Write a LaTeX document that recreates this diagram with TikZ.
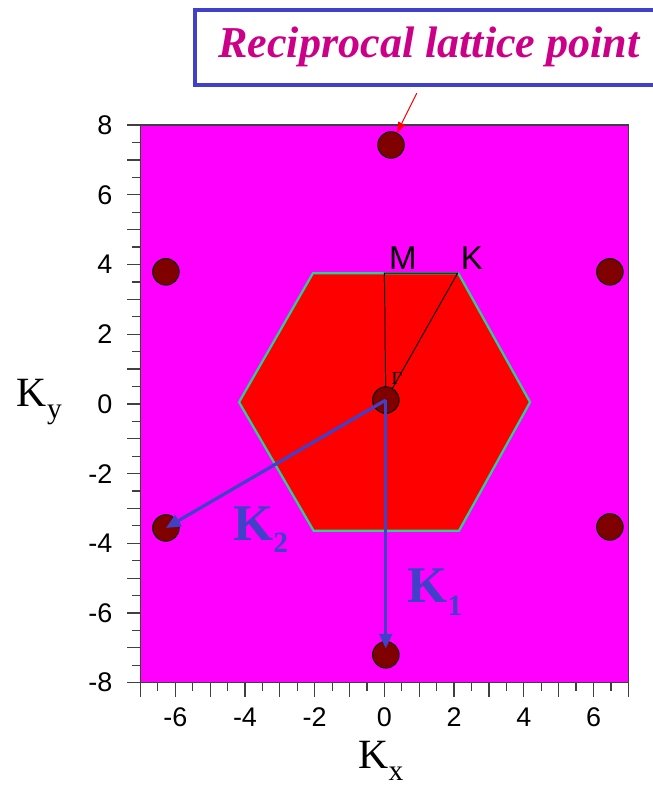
\documentclass[tikz,border=0pt]{standalone}
\usepackage{fontspec}
\setmainfont{Liberation Serif}
\newfontfamily\arialfont{Liberation Sans}
\usetikzlibrary{arrows.meta}

\definecolor{bgmag}{RGB}{255,0,255}
\definecolor{bzred}{RGB}{255,0,0}
\definecolor{ptred}{RGB}{128,0,0}
\definecolor{vecblue}{RGB}{64,64,200}
\definecolor{titlemag}{RGB}{204,0,136}
\definecolor{bzedge}{RGB}{40,210,150}

\newcommand\lowsub[2]{\raisebox{-10pt}{\fontsize{#1}{#1}\selectfont #2}}

\tikzset{
  latpt/.style={circle, draw=black, line width=0.8pt, fill=ptred, minimum size=0.76cm, inner sep=0pt},
  recvec/.style={vecblue, line width=2.6pt, -{Triangle[length=0.42cm,width=0.36cm]}},
  ticklbl/.style={font=\arialfont\fontsize{22}{22}\selectfont, inner sep=0pt},
  axislbl/.style={font=\fontsize{34}{34}\selectfont, inner sep=0pt},
  symlbl/.style={font=\arialfont\fontsize{27}{27}\selectfont, inner sep=0pt},
  veclbl/.style={font=\bfseries\fontsize{42}{42}\selectfont, text=vecblue, inner sep=0pt}
}

\begin{document}
\begin{tikzpicture}[x=1cm,y=1cm]
    \useasboundingbox (-11.03,-11.05) rectangle (7.68,11.59);

    % Plot area and first Brillouin zone
    \fill[bgmag] (-7,-8) rectangle (7,8);
    \filldraw[fill=bzred, draw=bzedge, line width=1.8pt]
        (-4.17,0.05) -- (-2.05,3.75) -- (2.12,3.75) -- (4.18,0.05)
        -- (2.14,-3.64) -- (-2.03,-3.64) -- cycle;
    \draw[black!75, line width=1pt] (-7,-8) rectangle (7,8);

    % Ticks and tick labels
    \foreach \i in {-14,...,14}{
        \ifodd\i \def\tl{0.23}\else \def\tl{0.4}\fi
        \draw[black!75, line width=1pt] (\i/2,-8) -- ++(0,-\tl);
    }
    \foreach \i in {-16,...,16}{
        \ifodd\i \def\tl{0.23}\else \def\tl{0.4}\fi
        \draw[black!75, line width=1pt] (-7,\i/2) -- ++(-\tl,0);
    }
    \foreach \v in {-6,-4,...,6}
        \node[ticklbl] (xl\v) at (\v,-9.0) {\v};
    \foreach \v in {-8,-6,...,8}
        \node[ticklbl, anchor=east] (yl\v) at (-7.8,\v) {\v};
    \node[axislbl] (kx) at (-0.1,-10.25) {K\lowsub{24}{x}};
    \node[axislbl] (ky) at (-9.9,0.05) {K\lowsub{24}{y}};

    % Path Gamma - M - K
    \coordinate (Gam) at (0.04,0.11);
    \coordinate (M) at (0,3.75);
    \coordinate (K) at (2.1,3.75);
    \draw[black, line width=0.8pt] (Gam) -- (M) -- (K) -- (Gam);
    \node[symlbl] (mlbl) at (0.53,4.19) {M};
    \node[symlbl] (klbl) at (2.51,4.19) {K};

    % Reciprocal lattice points
    \node[latpt] (G0) at (Gam) {};
    \node[latpt] (G1) at (0.19,7.43) {};
    \node[latpt] (G2) at (-6.27,3.79) {};
    \node[latpt] (G3) at (6.47,3.79) {};
    \node[latpt] (G4) at (-6.27,-3.56) {};
    \node[latpt] (G5) at (6.47,-3.53) {};
    \node[latpt] (G6) at (0.04,-7.2) {};
    \node[font=\fontsize{15}{15}\selectfont, inner sep=0pt] (gamlbl) at (0.36,0.72) {Γ};

    % Primitive vectors
    \draw[recvec] (G0.center) -- (G4.center);
    \draw[recvec] (G0.center) -- ([yshift=0.18cm]G6.center);
    \node[veclbl] (k2lbl) at (-3.55,-3.6) {K\lowsub{24}{2}};
    \node[veclbl] (k1lbl) at (1.45,-5.4) {K\lowsub{24}{1}};

    % Title box and pointer
    \node[draw=vecblue, line width=3pt, minimum width=13.44cm, minimum height=2.16cm,
          font=\bfseries\itshape\fontsize{36}{36}\selectfont, text=titlemag]
          (title) at (1.28,10.23) {Reciprocal lattice point};
    \coordinate (ptr) at (0.93,8.92);
    \draw[red, line width=0.8pt, -{Triangle[length=0.3cm,width=0.22cm]}] (ptr) -- (G1);
\end{tikzpicture}
\end{document}
